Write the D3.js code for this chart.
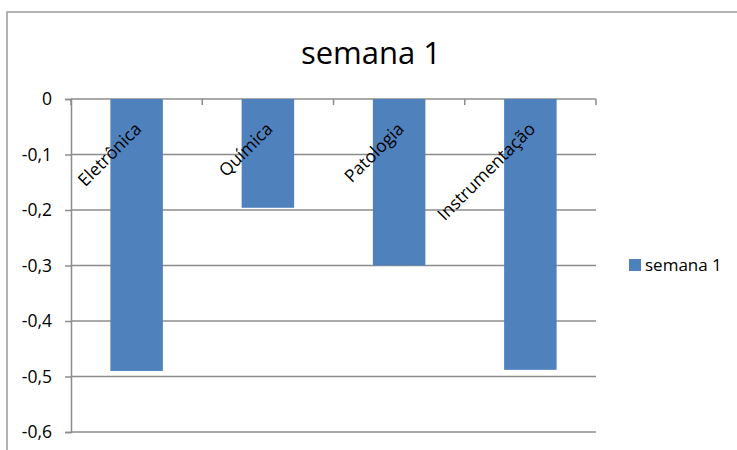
<!DOCTYPE html>
<html>
<head>
<meta charset="utf-8">
<script src="https://cdn.jsdelivr.net/npm/d3@7"></script>
<style>
  body { margin: 0; background: #fff; }
  text { font-family: "Open Sans", "Noto Sans", sans-serif; fill: #000; }
</style>
</head>
<body>
<svg id="chart" width="737" height="450"></svg>
<script>
// Dados do gráfico
const categories = ["Eletrônica", "Química", "Patologia", "Instrumentação"];
const values = [-0.49, -0.196, -0.3, -0.488];
const seriesName = "semana 1";
const yTicks = [0, -0.1, -0.2, -0.3, -0.4, -0.5, -0.6];

const svg = d3.select("#chart");

// moldura da área do gráfico
svg.append("path")
    .attr("d", "M7,450 L7,12 L737,12")
    .attr("fill", "none")
    .attr("stroke", "#9a9a9a")
    .attr("stroke-width", 1.5);

const margin = { top: 99, left: 71 },
      width = 596 - 71,
      height = 432 - 99;

const g = svg.append("g")
    .attr("transform", `translate(${margin.left},${margin.top})`);

const x = d3.scaleBand()
    .domain(categories)
    .range([0, width])
    .paddingInner(0.6)
    .paddingOuter(0.3);

const y = d3.scaleLinear()
    .domain([0, -0.6])
    .range([0, height]);

const fmt = d => d === 0 ? "0" : d3.format(".1f")(d).replace("−", "-").replace(".", ",");

// linhas de grade
g.selectAll(".grid")
    .data(yTicks)
    .enter()
    .append("line")
    .attr("x1", 0)
    .attr("x2", width)
    .attr("y1", d => y(d))
    .attr("y2", d => y(d))
    .attr("stroke", "#8c8c8c")
    .attr("stroke-width", 1.5);

// barras
g.selectAll("rect")
    .data(values)
    .enter()
    .append("rect")
    .attr("x", (d, i) => x(categories[i]))
    .attr("y", y(0))
    .attr("width", x.bandwidth())
    .attr("height", d => y(d) - y(0))
    .attr("fill", "#4f81bd");

// eixo Y
const yAxis = g.append("g")
    .call(d3.axisLeft(y)
        .tickValues(yTicks)
        .tickSize(6)
        .tickPadding(13)
        .tickFormat(fmt));
yAxis.select(".domain").attr("stroke", "#8c8c8c").attr("stroke-width", 1.5);
yAxis.selectAll(".tick line").attr("stroke", "#8c8c8c").attr("stroke-width", 1.5);
yAxis.selectAll(".tick text")
    .style("font-size", "17.5px");

// eixo X (no topo, marcas para baixo)
const xTickPos = d3.range(categories.length + 1).map(i => i * x.step());
g.selectAll(".xtick")
    .data(xTickPos)
    .enter()
    .append("line")
    .attr("x1", d => d)
    .attr("x2", d => d)
    .attr("y1", 0)
    .attr("y2", 6)
    .attr("stroke", "#8c8c8c")
    .attr("stroke-width", 1.5);

// rótulos das categorias, girados
g.selectAll(".cat")
    .data(categories)
    .enter()
    .append("text")
    .attr("text-anchor", "end")
    .attr("transform", d => `translate(${x(d) + x.bandwidth() / 2 + 6},${31}) rotate(-45)`)
    .style("font-size", "17.5px")
    .text(d => d);

// título
svg.append("text")
    .attr("x", 371)
    .attr("y", 64)
    .attr("text-anchor", "middle")
    .style("font-size", "31px")
    .text(seriesName);

// legenda
svg.append("rect")
    .attr("x", 629)
    .attr("y", 259)
    .attr("width", 12)
    .attr("height", 12)
    .attr("fill", "#4f81bd");
svg.append("text")
    .attr("x", 645)
    .attr("y", 271)
    .style("font-size", "17px")
    .text(seriesName);
</script>
</body>
</html>
